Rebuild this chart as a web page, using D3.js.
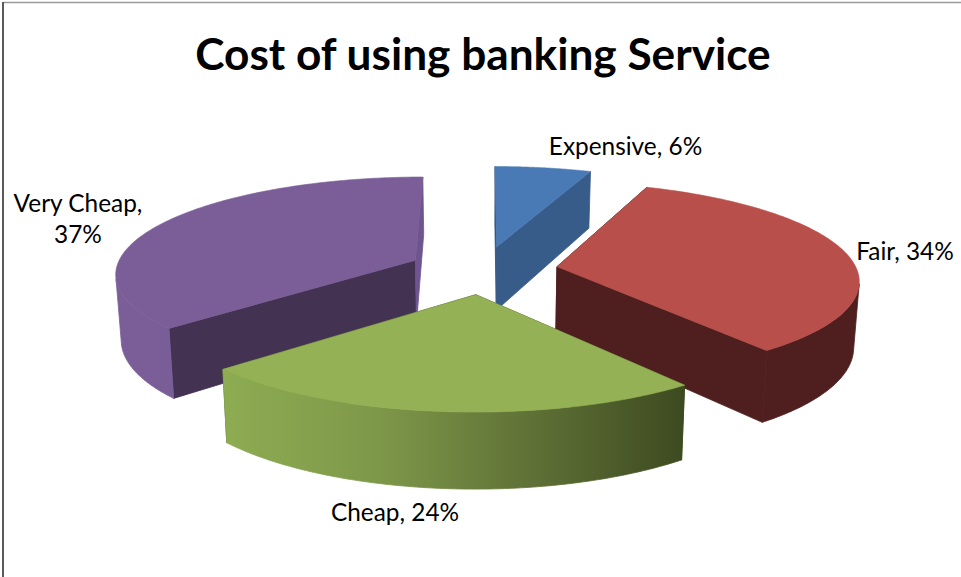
<!DOCTYPE html>
<html>
<head>
<meta charset="utf-8">
<script src="https://cdn.jsdelivr.net/npm/d3@7"></script>
<style>
  html, body { margin: 0; padding: 0; background: #fff; }
  svg { display: block; }
  text { font-family: Lato, "Open Sans", sans-serif; fill: #000; }
</style>
</head>
<body>
<svg id="chart" width="961" height="577"></svg>
<script>
const titleText = "Cost of using banking Service";
const categories = ["Expensive", "Fair", "Cheap", "Very Cheap"];
const shares = [6, 34, 24, 37];
const topColors = ["#4a7ab5", "#b84f4a", "#94b255", "#7b5e98"];
// Radial cut faces: the one at each slice's start angle, then at its end angle
const startWallColors = ["#2f4f78", "#4e1f1e", "#43501f", "#433252"];
const endWallColors = ["#385c89", "#4e1f1e", "#43501f", "#6f5590"];
// Outer rim shading, left to right across each slice
const rimStops = [
  ["#385c89", "#385c89"],
  ["#4e1f1e", "#4e1f1e"],
  ["#8eac52", "#7e984a", "#5f7136", "#3d4a20"],
  ["#7b5e98", "#735a90"]
];
const drawOrder = [0, 3, 1, 2];

// Camera and solid proportions for the tilted, exploded disc
const view = { cx: 483, cy: 270, ax: 300, az: 96, persp: 0.125, explode: 0.25, depth: 65, bottomShrink: 0.985 };

function project(x, z, lower) {
  const w = 1 + view.persp * z;
  const shrink = lower ? view.bottomShrink : 1;
  return [
    view.cx + (view.ax * x / w) * shrink,
    view.cy - view.az * z / w + (lower ? view.depth / w : 0)
  ];
}

const pie = d3.pie().sort(null).startAngle(0).endAngle(2 * Math.PI);
const arcs = pie(shares);
const line = d3.line();
const svg = d3.select("#chart");
const defs = svg.append("defs");

function rimPoint(d, a, lower) {
  const mid = (d.startAngle + d.endAngle) / 2;
  return project(
    Math.sin(a) + view.explode * Math.sin(mid),
    Math.cos(a) + view.explode * Math.cos(mid),
    lower
  );
}
function apexPoint(d, lower) {
  const mid = (d.startAngle + d.endAngle) / 2;
  return project(view.explode * Math.sin(mid), view.explode * Math.cos(mid), lower);
}
function sweep(d) {
  const n = 160;
  return d3.range(n + 1).map(i => d.startAngle + (d.endAngle - d.startAngle) * i / n);
}
// Keeps the part of the rim that faces the viewer, so its open end follows the silhouette
function visibleAngles(d, angles) {
  return angles.filter((a, j) => {
    const next = j < angles.length - 1 ? j + 1 : j;
    const prev = next - 1;
    const p = rimPoint(d, angles[prev], false);
    const q = rimPoint(d, angles[next], false);
    const h = rimPoint(d, angles[next], true);
    return (q[0] - p[0]) * (h[1] - q[1]) - (q[1] - p[1]) * (h[0] - q[0]) < 0;
  });
}

// Chart frame: only the top and left edges fall inside the canvas
svg.append("line").attr("x1", 3).attr("x2", 961).attr("y1", 2.5).attr("y2", 2.5)
  .attr("stroke", "#9a9a9a").attr("stroke-width", 1.5);
svg.append("line").attr("x1", 3).attr("x2", 3).attr("y1", 2).attr("y2", 577)
  .attr("stroke", "#5a5a5a").attr("stroke-width", 2);

drawOrder.forEach(i => {
  const d = arcs[i];
  const angles = sweep(d);
  const upper = angles.map(a => rimPoint(d, a, false));
  const g = svg.append("g").attr("class", "slice").datum(categories[i]);

  // Rim gradient spans the slice's horizontal extent
  const xs = upper.map(p => p[0]);
  const grad = defs.append("linearGradient")
    .attr("id", "rim" + i).attr("gradientUnits", "userSpaceOnUse")
    .attr("x1", d3.min(xs)).attr("x2", d3.max(xs)).attr("y1", 0).attr("y2", 0);
  rimStops[i].forEach((c, k, all) => {
    grad.append("stop").attr("offset", k / (all.length - 1)).attr("stop-color", c);
  });

  // Two radial cut faces, stroked in their own colour to close antialiasing seams
  [[d.startAngle, startWallColors[i]], [d.endAngle, endWallColors[i]]].forEach(([a, color]) => {
    const poly = [apexPoint(d, false), rimPoint(d, a, false), rimPoint(d, a, true), apexPoint(d, true)];
    g.append("path").attr("d", line(poly) + "Z").attr("fill", color)
      .attr("stroke", color).attr("stroke-width", 0.8).attr("stroke-linejoin", "round");
  });

  // Outer rim band
  const shown = visibleAngles(d, angles);
  if (shown.length > 1) {
    const rimTop = shown.map(a => rimPoint(d, a, false));
    const rimBottom = shown.map(a => rimPoint(d, a, true)).reverse();
    g.append("path")
      .attr("d", line(rimTop.concat(rimBottom)) + "Z")
      .attr("fill", `url(#rim${i})`)
      .attr("stroke", `url(#rim${i})`).attr("stroke-width", 0.8).attr("stroke-linejoin", "round");
  }

  // Top face
  g.append("path")
    .attr("d", line([apexPoint(d, false)].concat(upper)) + "Z")
    .attr("fill", topColors[i])
    .attr("stroke", topColors[i]).attr("stroke-width", 0.6).attr("stroke-linejoin", "round");
});

svg.append("text").attr("x", 483).attr("y", 70).attr("text-anchor", "middle")
  .attr("font-size", 44.2).attr("font-weight", 700).text(titleText);

const labelSpots = [
  { lines: [`${categories[0]}, ${shares[0]}%`], x: 625.5, y: 155 },
  { lines: [`${categories[1]}, ${shares[1]}%`], x: 905, y: 260 },
  { lines: [`${categories[2]}, ${shares[2]}%`], x: 395, y: 521 },
  { lines: [`${categories[3]},`, `${shares[3]}%`], x: 78, y: 212 }
];
labelSpots.forEach(s => {
  s.lines.forEach((t, k) => {
    svg.append("text").attr("x", s.x).attr("y", s.y + k * 31)
      .attr("text-anchor", "middle").attr("font-size", 24.4).text(t);
  });
});
</script>
</body>
</html>
